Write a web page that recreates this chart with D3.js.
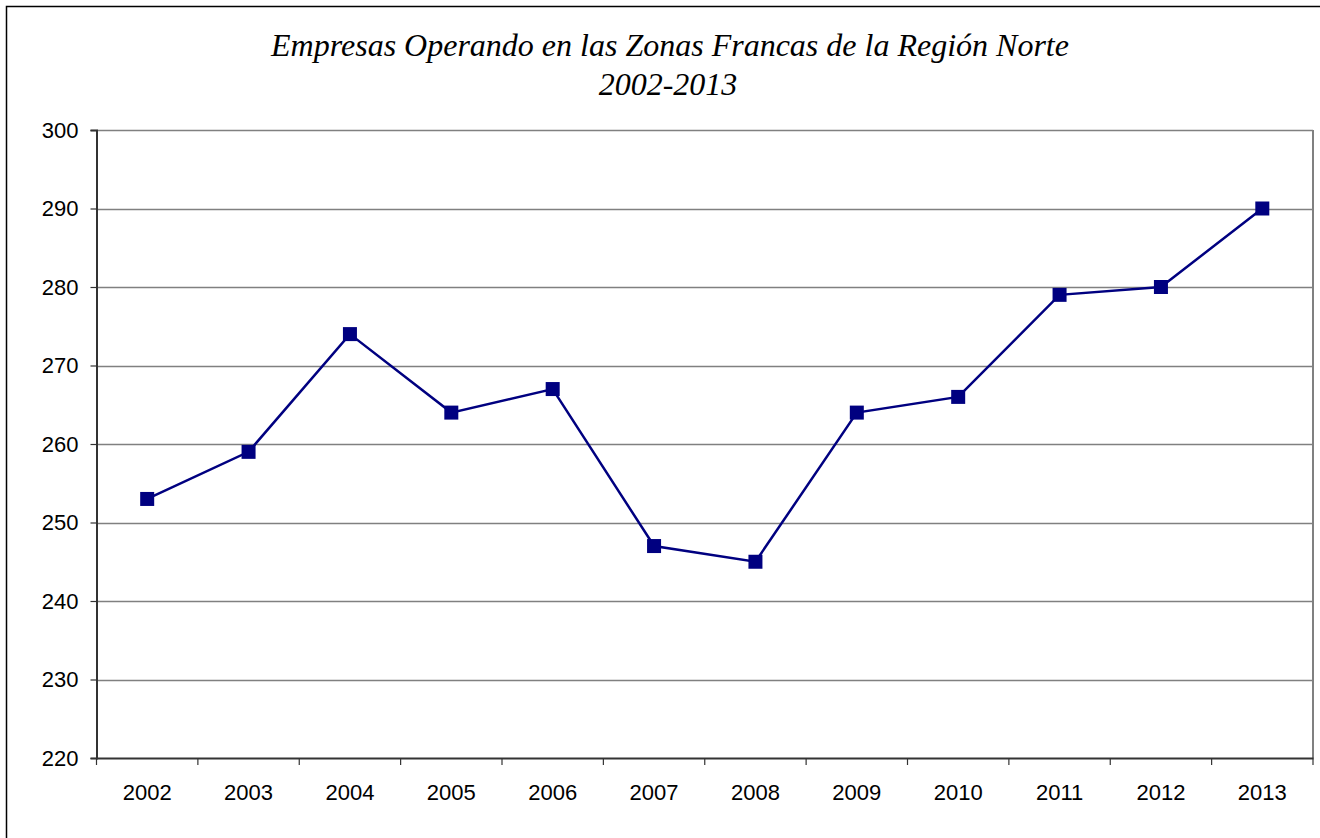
<!DOCTYPE html>
<meta charset="utf-8">
<script src="https://d3js.org/d3.v7.min.js"></script>
<style>
  body { margin: 0; background: #fff; }
  .axis text { font-family: Arial, "Liberation Sans", sans-serif; font-size: 22px; fill: #000; }
</style>
<div id="my_dataviz"></div>
<script>

// data
var years = ["2002", "2003", "2004", "2005", "2006", "2007", "2008", "2009", "2010", "2011", "2012", "2013"];
var empresas = [253, 259, 274, 264, 267, 247, 245, 264, 266, 279, 280, 290];
var yTicks = [220, 230, 240, 250, 260, 270, 280, 290, 300];

var W = 1320, H = 838;
var margin = {top: 130, right: 7.5, bottom: 80, left: 96.5},
    width = 1313 - margin.left,
    height = 758 - margin.top;

var root = d3.select("#my_dataviz")
  .append("svg")
    .attr("width", W)
    .attr("height", H);

// outer frame
root.append("rect")
  .attr("x", 6.5).attr("y", 6.5)
  .attr("width", W).attr("height", H)
  .style("fill", "none")
  .style("stroke", "#000")
  .style("stroke-width", 1.5);

// title
var title = root.append("text")
  .attr("text-anchor", "middle")
  .style("font-family", "'Liberation Serif', 'Times New Roman', serif")
  .style("font-style", "italic")
  .style("font-size", "32px");
title.append("tspan").attr("x", 670).attr("y", 56).text("Empresas Operando en las Zonas Francas de la Región Norte");
title.append("tspan").attr("x", 668).attr("y", 95).text("2002-2013");

var svg = root.append("g")
  .attr("transform", "translate(" + margin.left + "," + margin.top + ")");

var x = d3.scaleBand()
  .domain(years)
  .range([0, width]);

var y = d3.scaleLinear()
  .domain([220, 300])
  .range([height, 0]);

// gridlines
svg.append("g")
  .selectAll("line")
  .data(yTicks.slice(1))
  .enter()
  .append("line")
    .attr("x1", 0).attr("x2", width)
    .attr("y1", function(d) { return Math.round(y(d)) + 0.5; })
    .attr("y2", function(d) { return Math.round(y(d)) + 0.5; })
    .style("stroke", "#808080")
    .style("stroke-width", 1.5);

// right border of plot
svg.append("line")
  .attr("x1", width).attr("x2", width)
  .attr("y1", 0).attr("y2", height)
  .style("stroke", "#808080")
  .style("stroke-width", 2);

// Y axis
var yAxis = svg.append("g")
  .attr("class", "axis")
  .call(d3.axisLeft(y).tickValues(yTicks).tickSize(6).tickPadding(12).tickFormat(d3.format("d")));

// X axis with ticks at band boundaries
var xAxis = svg.append("g")
  .attr("class", "axis")
  .attr("transform", "translate(0," + height + ")")
  .call(d3.axisBottom(x).tickSize(0).tickPadding(26));

xAxis.selectAll(".bt")
  .data(years.concat(["end"]))
  .enter()
  .append("line")
    .attr("x1", function(d, i) { return i * x.bandwidth(); })
    .attr("x2", function(d, i) { return i * x.bandwidth(); })
    .attr("y1", 0).attr("y2", 7)
    .style("stroke", "#333")
    .style("stroke-width", 1.2);

svg.selectAll(".axis path")
  .style("stroke", "#333")
  .style("stroke-width", 2);
yAxis.selectAll("line").style("stroke", "#333").style("stroke-width", 1.2);

// line
var line = d3.line()
  .x(function(d, i) { return x(years[i]) + x.bandwidth() / 2; })
  .y(function(d) { return y(d); });

svg.append("path")
  .datum(empresas)
  .attr("d", line)
  .style("fill", "none")
  .style("stroke", "#000080")
  .style("stroke-width", 2.5);

// square markers
var s = 14;
svg.append("g")
  .selectAll("rect")
  .data(empresas)
  .enter()
  .append("rect")
    .attr("x", function(d, i) { return x(years[i]) + x.bandwidth() / 2 - s / 2; })
    .attr("y", function(d) { return y(d) - s / 2; })
    .attr("width", s)
    .attr("height", s)
    .style("fill", "#000080");

</script>
